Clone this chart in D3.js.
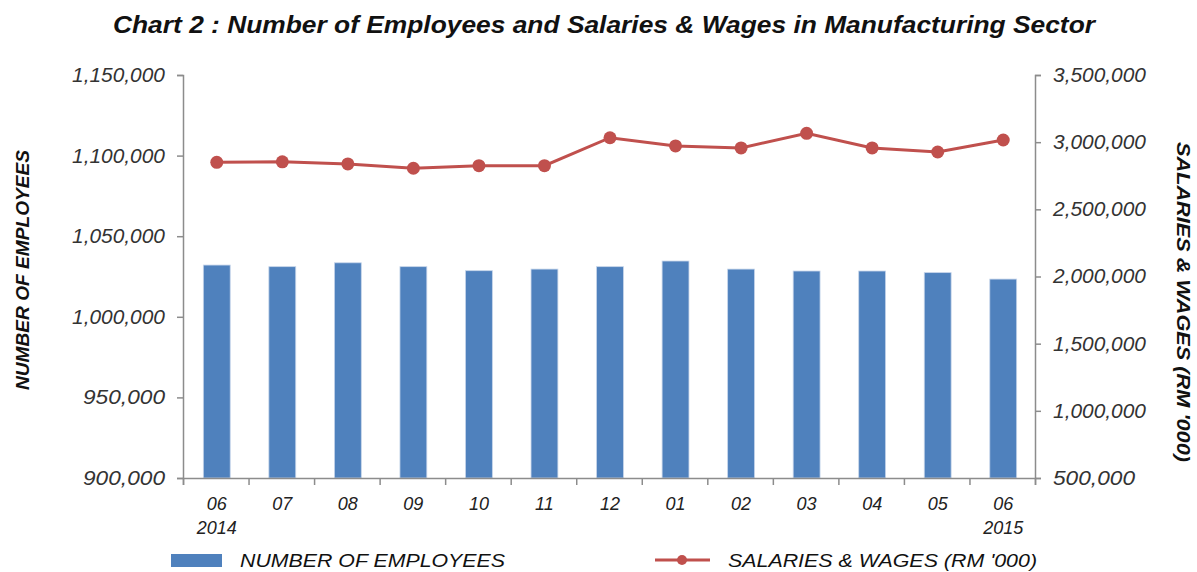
<!DOCTYPE html>
<html>
<head>
<meta charset="utf-8">
<script src="https://cdn.jsdelivr.net/npm/d3@7"></script>
<style>
  body { margin: 0; background: #fff; }
  text { font-family: "Liberation Sans", Arial, sans-serif; }
</style>
</head>
<body>
<div id="chart"></div>
<script>
let width = 1197
let height = 572

//data
let months = ["06", "07", "08", "09", "10", "11", "12", "01", "02", "03", "04", "05", "06"]
let years = ["2014", "", "", "", "", "", "", "", "", "", "", "", "2015"]
let employees = [1032100, 1031100, 1033500, 1031100, 1028600, 1029600, 1031100, 1034600, 1029600, 1028400, 1028400, 1027400, 1023400]
let salaries = [2850000, 2854000, 2838000, 2806000, 2825000, 2825000, 3033000, 2972000, 2957000, 3066000, 2957000, 2927000, 3016000]
let leftTicks = [900000, 950000, 1000000, 1050000, 1100000, 1150000]
let rightTicks = [500000, 1000000, 1500000, 2000000, 2500000, 3000000, 3500000]

let barColor = "#4f81bd"
let lineColor = "#c0504d"
let axisColor = "#8c8c8c"

let svg = d3.select("#chart").append("svg")
  .attr("width", width)
  .attr("height", height)

let idx = months.map((m, i) => i)

let xScale = d3.scaleBand(idx, [183, 1035]).paddingInner(0.59).paddingOuter(0.295)
let yLeft = d3.scaleLinear([900000, 1150000], [478, 75])
let yRight = d3.scaleLinear([500000, 3500000], [478, 75])

//title
svg.append("text")
  .attr("x", 604)
  .attr("y", 33)
  .attr("text-anchor", "middle")
  .attr("textLength", 982)
  .attr("lengthAdjust", "spacingAndGlyphs")
  .style("font-size", "24px")
  .style("font-weight", "bold")
  .style("font-style", "italic")
  .style("fill", "#111")
  .text("Chart 2 : Number of Employees and Salaries & Wages in Manufacturing  Sector")

//bars
svg.selectAll(".bar")
  .data(employees)
  .enter()
  .append("rect")
  .attr("class", "bar")
  .attr("x", (d, i) => xScale(i) + 1)
  .attr("width", xScale.bandwidth())
  .attr("y", d => yLeft(d))
  .attr("height", d => 478 - yLeft(d))
  .attr("fill", barColor)
  .attr("stroke", "#c6d5ea")
  .attr("stroke-width", 0.8)

//left axis
let leftAxis = d3.axisLeft(yLeft).tickValues(leftTicks).tickFormat(d3.format(",")).tickSize(6).tickPadding(12)
let gl = svg.append("g").attr("transform", "translate(183,0)").call(leftAxis)

//right axis
let rightAxis = d3.axisRight(yRight).tickValues(rightTicks).tickFormat(d3.format(",")).tickSize(6).tickPadding(12)
let gr = svg.append("g").attr("transform", "translate(1035,0)").call(rightAxis)

//x axis with ticks on the category boundaries
let xAxis = d3.axisBottom(d3.scaleLinear([0, 13], [183, 1035])).tickValues(d3.range(14)).tickSize(7).tickFormat("")
let gx = svg.append("g").attr("transform", "translate(0,478)").call(xAxis)

for (let g of [gl, gr, gx]) {
  g.select(".domain").attr("stroke", axisColor).attr("stroke-width", 1.5)
  g.selectAll(".tick line").attr("stroke", axisColor).attr("stroke-width", 1.5)
  g.selectAll(".tick text")
    .attr("textLength", 93)
    .attr("lengthAdjust", "spacingAndGlyphs")
    .style("font-size", "20px")
    .style("font-style", "italic")
    .style("font-family", "'Liberation Sans', Arial, sans-serif")
    .attr("fill", "#333")
}
//shorter labels keep their natural width
gl.selectAll(".tick text").filter(d => d < 1000000).attr("textLength", 82)
gr.selectAll(".tick text").filter(d => d < 1000000).attr("textLength", 82)

//category labels
svg.selectAll(".month")
  .data(months)
  .enter()
  .append("text")
  .attr("class", "month")
  .attr("x", (d, i) => xScale(i) + xScale.bandwidth() / 2 + 1)
  .attr("y", 510)
  .attr("text-anchor", "middle")
  .style("font-size", "18px")
  .style("font-style", "italic")
  .style("fill", "#222")
  .text(d => d)

svg.selectAll(".year")
  .data(years)
  .enter()
  .append("text")
  .attr("class", "year")
  .attr("x", (d, i) => xScale(i) + xScale.bandwidth() / 2 + 1)
  .attr("y", 534)
  .attr("text-anchor", "middle")
  .style("font-size", "18px")
  .style("font-style", "italic")
  .style("fill", "#222")
  .text(d => d)

//line
let line = d3.line()
  .x((d, i) => xScale(i) + xScale.bandwidth() / 2 + 1)
  .y(d => yRight(d))

svg.append("path")
  .datum(salaries)
  .attr("d", line)
  .attr("fill", "none")
  .attr("stroke", lineColor)
  .attr("stroke-width", 3)

svg.selectAll(".dot")
  .data(salaries)
  .enter()
  .append("circle")
  .attr("class", "dot")
  .attr("cx", (d, i) => xScale(i) + xScale.bandwidth() / 2 + 1)
  .attr("cy", d => yRight(d))
  .attr("r", 6.5)
  .attr("fill", lineColor)

//axis titles
svg.append("text")
  .attr("transform", "translate(29,270) rotate(-90)")
  .attr("text-anchor", "middle")
  .attr("textLength", 240)
  .attr("lengthAdjust", "spacingAndGlyphs")
  .style("font-size", "19px")
  .style("font-weight", "bold")
  .style("font-style", "italic")
  .style("fill", "#111")
  .text("NUMBER OF EMPLOYEES")

svg.append("text")
  .attr("transform", "translate(1177,302) rotate(90)")
  .attr("text-anchor", "middle")
  .attr("textLength", 320)
  .attr("lengthAdjust", "spacingAndGlyphs")
  .style("font-size", "19px")
  .style("font-weight", "bold")
  .style("font-style", "italic")
  .style("fill", "#111")
  .text("SALARIES & WAGES (RM '000)")

//legend
svg.append("rect")
  .attr("x", 171).attr("y", 554)
  .attr("width", 51).attr("height", 13)
  .attr("fill", barColor)

svg.append("text")
  .attr("x", 240).attr("y", 567)
  .attr("textLength", 265)
  .attr("lengthAdjust", "spacingAndGlyphs")
  .style("font-size", "18px")
  .style("font-style", "italic")
  .style("fill", "#111")
  .text("NUMBER OF EMPLOYEES")

svg.append("line")
  .attr("x1", 655).attr("x2", 710)
  .attr("y1", 560).attr("y2", 560)
  .attr("stroke", lineColor)
  .attr("stroke-width", 3)

svg.append("circle")
  .attr("cx", 682).attr("cy", 560).attr("r", 5)
  .attr("fill", lineColor)

svg.append("text")
  .attr("x", 728).attr("y", 567)
  .attr("textLength", 309)
  .attr("lengthAdjust", "spacingAndGlyphs")
  .style("font-size", "18px")
  .style("font-style", "italic")
  .style("fill", "#111")
  .text("SALARIES & WAGES (RM '000)")
</script>
</body>
</html>
